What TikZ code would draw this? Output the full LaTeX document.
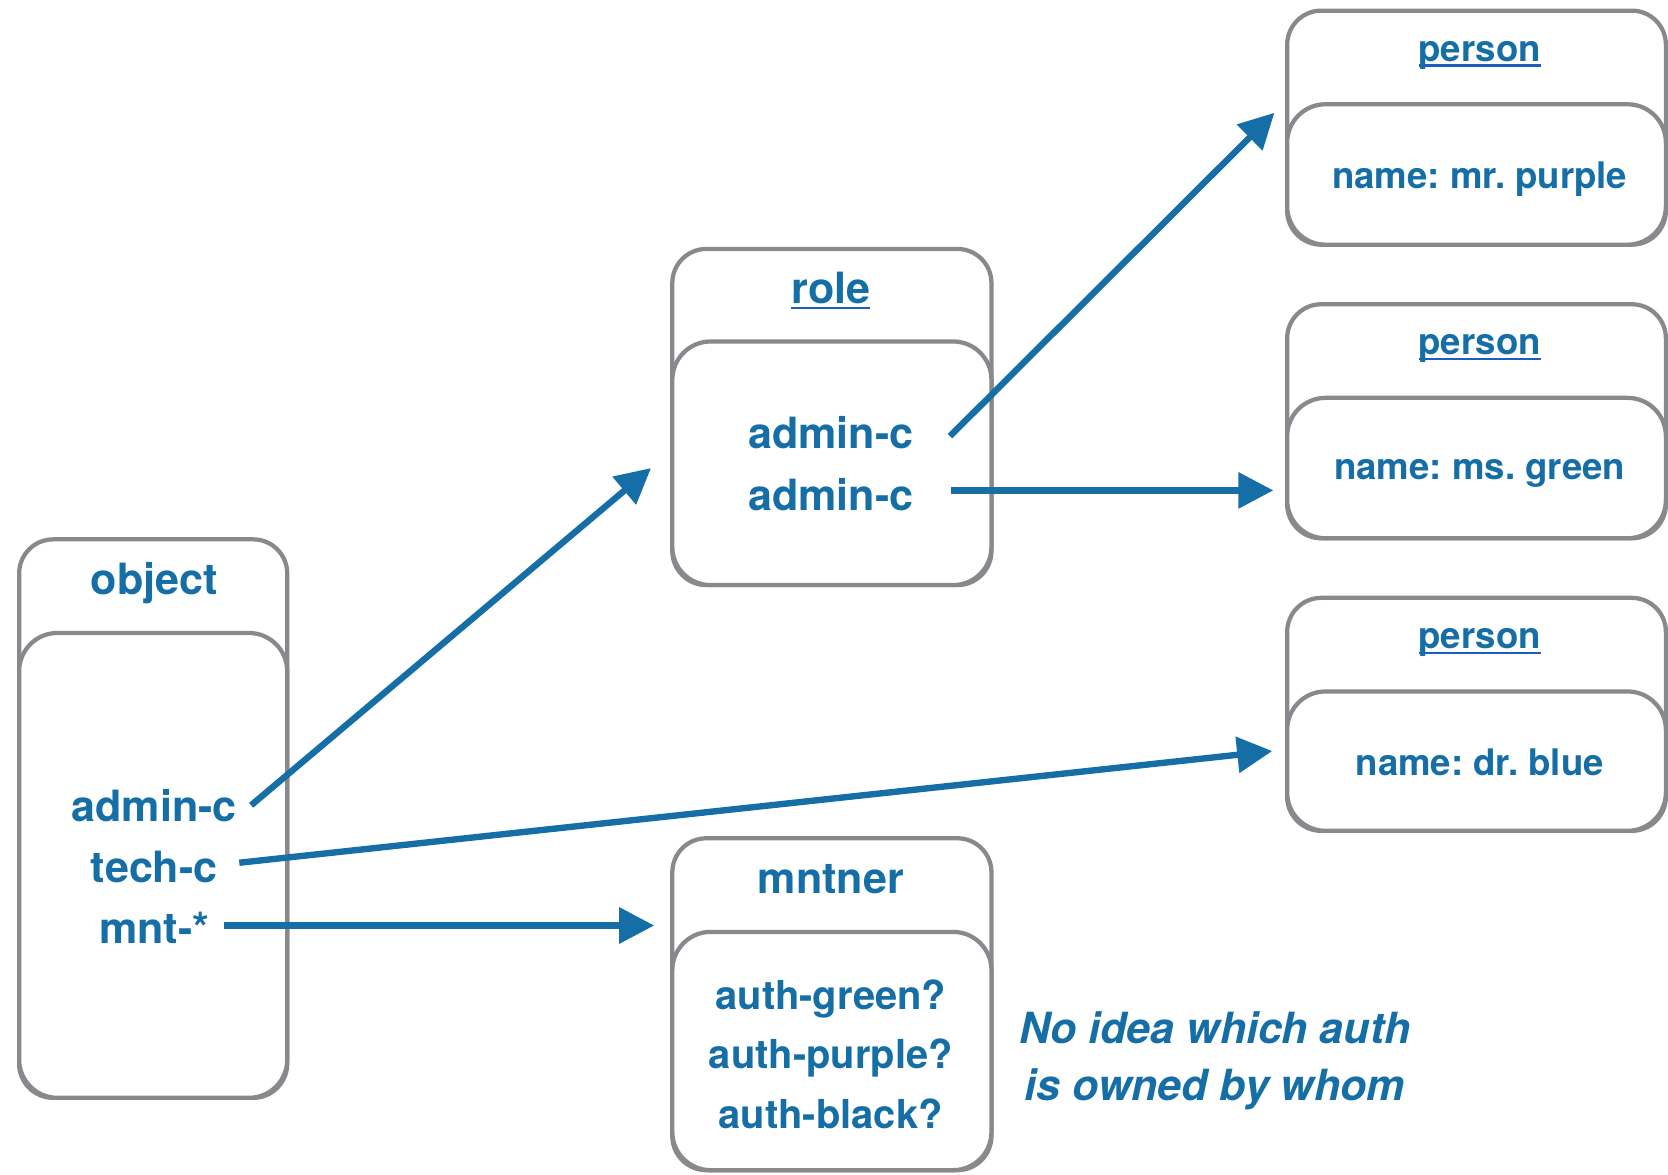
\documentclass[tikz,border=0pt]{standalone}
\usepackage{fontspec}
\setmainfont{TeX Gyre Heros}
\usetikzlibrary{arrows.meta,calc}
\definecolor{ink}{HTML}{156EA6}
\definecolor{frame}{HTML}{87898D}
\definecolor{ulink}{HTML}{1F5CC0}
\frenchspacing
% underlined, link-style word
\newcommand\linkword[1]{\setbox0\hbox{#1}\rlap{\color{ulink}\rule[-0.14em]{\wd0}{0.06em}}\box0}
\begin{document}
\begin{tikzpicture}[x=0.5pt,y=-0.5pt,
  head/.style={draw=frame, line width=2pt, rounded corners=16pt, fill=white,
    anchor=north west, inner sep=0pt, outer sep=0pt},
  body/.style={draw=frame, line width=2pt, rounded corners=18pt, fill=white,
    anchor=north west, inner sep=0pt, outer sep=0pt},
  lbl/.style={text=ink, inner sep=0pt, font=\bfseries\fontsize{20.25}{24}\selectfont},
  plbl/.style={text=ink, inner sep=0pt, font=\bfseries\fontsize{17.2}{21}\selectfont},
  albl/.style={text=ink, inner sep=0pt, font=\bfseries\fontsize{18.75}{22}\selectfont},
  note/.style={text=ink, inner sep=0pt, font=\bfseries\itshape\fontsize{20.2}{24}\selectfont},
  arr/.style={draw=ink, line width=3pt, -{Triangle[length=16.5pt,width=16.5pt]}}]
\useasboundingbox (0,0) rectangle (1568,1104);

% object
\node[head, minimum width=126pt, minimum height=262.5pt] (objHead) at (18,507) {};
\node[body, minimum width=126pt, minimum height=218.5pt] (objBody) at (18,595) {};
\node[lbl] (objTitle) at (145,548) {object};
\node[lbl] (objAdmin) at (145,757) {admin-c};
\node[lbl] (objTech)  at (145,815) {tech-c};
\node[lbl] (objMnt)   at (145,872) {mnt-*};

% role
\node[head, minimum width=150pt, minimum height=158pt] (roleHead) at (632,234) {};
\node[body, minimum width=150pt, minimum height=114.5pt] (roleBody) at (632,321) {};
\node[lbl] (roleTitle) at (781,273) {\linkword{role}};
\node[lbl] (roleA) at (781,407) {admin-c};
\node[lbl] (roleB) at (781,465) {admin-c};

% persons
\node[head, minimum width=178pt, minimum height=110pt] (p1Head) at (1210,10) {};
\node[body, minimum width=178pt, minimum height=66pt] (p1Body) at (1210,98) {};
\node[plbl] (p1Title) at (1391,52) {\linkword{person}};
\node[plbl] (p1Name) at (1391,168) {name: mr. purple};

\node[head, minimum width=178pt, minimum height=110pt] (p2Head) at (1210,286) {};
\node[body, minimum width=178pt, minimum height=66pt] (p2Body) at (1210,374) {};
\node[plbl] (p2Title) at (1391,328) {\linkword{person}};
\node[plbl] (p2Name) at (1391,445) {name: ms. green};

\node[head, minimum width=178pt, minimum height=109.5pt] (p3Head) at (1210,562) {};
\node[body, minimum width=178pt, minimum height=65.5pt] (p3Body) at (1210,650) {};
\node[plbl] (p3Title) at (1391,604) {\linkword{person}};
\node[plbl] (p3Name) at (1391,717) {name: dr. blue};

% mntner
\node[head, minimum width=150pt, minimum height=156pt] (mntHead) at (632,788) {};
\node[body, minimum width=150pt, minimum height=112pt] (mntBody) at (632,876) {};
\node[lbl] (mntTitle) at (781,826) {mntner};
\node[albl] (authG) at (781,939) {auth-green?};
\node[albl] (authP) at (781,995) {auth-purple?};
\node[albl] (authB) at (781,1047) {auth-black?};

% remark
\node[note] (note1) at (1142,966) {No idea which auth};
\node[note] (note2) at (1142,1024) {is owned by whom};

% arrow tips
\coordinate (toRole) at (612,440);
\coordinate (toP3) at (1196,706);
\coordinate (toMnt) at (615,870);
\coordinate (toP1) at (1198,106);
\coordinate (toP2) at (1197,461);

\draw[arr] ($(objAdmin.east)+(13,0)$) -- (toRole);
\draw[arr] ($(objTech.east)+(20,-4)$) -- (toP3);
\draw[arr] ($(objMnt.east)+(13,-2)$) -- (toMnt);
\draw[arr] ($(roleA.east)+(34,3)$) -- (toP1);
\draw[arr] ($(roleB.east)+(35,-4)$) -- (toP2);
\end{tikzpicture}
\end{document}
